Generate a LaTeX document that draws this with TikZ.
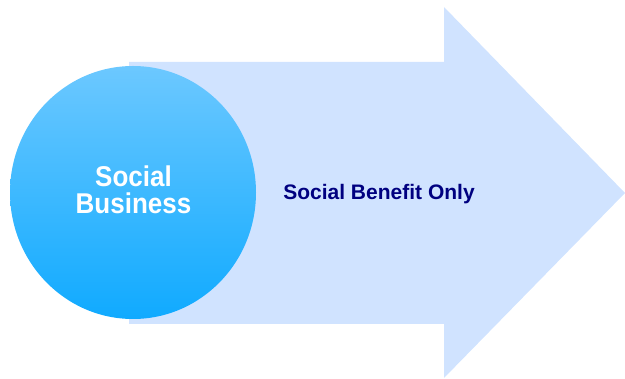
\documentclass[tikz,border=0pt]{standalone}
\usepackage{fontspec}
\setmainfont{Liberation Sans}
\usetikzlibrary{shapes}

\definecolor{arrowblue}{HTML}{D0E3FF}
\definecolor{topblue}{HTML}{6CC8FF}
\definecolor{bottomblue}{HTML}{10AAFF}
\definecolor{navy}{HTML}{000080}

\begin{document}
\begin{tikzpicture}[x=1pt,y=-1pt]
	
	\useasboundingbox (0,0) rectangle (625,379);
	
	% big arrow
	\fill[arrowblue] (129,62) -- (444,62) -- (444,7) -- (625,193) -- (444,378) -- (444,324) -- (129,324) -- cycle;
	
	\node [ellipse, minimum width=246pt, minimum height=253pt, inner sep=0pt, top color=topblue, bottom color=bottomblue] (SB) at (133,192.5){};
	\node [anchor=base, inner sep=0pt, text=white, font=\bfseries\fontsize{26}{21}\selectfont] (SBT) at (133.5,214){\scalebox{1}[1.1]{\begin{tabular}[b]{@{}c@{}}Social\\Business\end{tabular}}};
	\node [anchor=base, text=navy, font=\bfseries\fontsize{21}{24}\selectfont] (BEN) at (379,200){Social Benefit Only};
	
\end{tikzpicture}
\end{document}
